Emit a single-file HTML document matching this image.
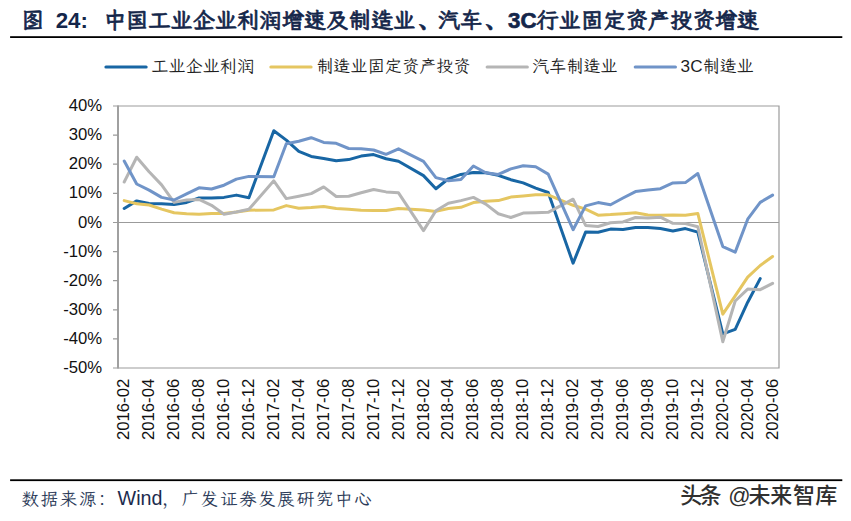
<!DOCTYPE html>
<html lang="zh-CN"><head><meta charset="utf-8"><title>图 24</title>
<style>
html,body{margin:0;padding:0;background:#fff;}
svg{display:block;}
.kai{font-family:"Liberation Sans","LXGW WenKai TC","Noto Serif CJK SC",serif;}
.pu{font-family:"Liberation Sans","Noto Serif CJK SC",serif;}
.sans{font-family:"Liberation Sans","Noto Sans CJK SC",sans-serif;}
.title{font-size:22.27px;font-weight:bold;fill:#14264a;}
.tk{stroke:#14264a;stroke-width:0.65px;}
.lg{font-size:17.15px;fill:#1f1f1f;}
.ax{font-size:16.7px;fill:#111;}
.src{font-size:17.6px;letter-spacing:1.6px;fill:#2b3a58;}
.srcl{font-size:19.7px;fill:#1c2b4d;}
.wm{font-size:22px;font-weight:500;fill:#303030;}
.series polyline{fill:none;stroke-width:3;stroke-linejoin:round;stroke-linecap:round;}
</style></head><body>
<svg width="851" height="521" viewBox="0 0 851 521">
<rect x="0" y="0" width="851" height="521" fill="#fff"/>
<rect x="10.1" y="36.2" width="832.2" height="1.8" fill="#000"/>
<rect x="10.1" y="479.3" width="832.2" height="1.8" fill="#000"/>
<text class="title kai tk" x="21.6" y="28.2">图</text>
<text class="title sans" x="55.7" y="28.2">24:</text>
<text class="title kai tk" x="103.7" y="28.2">中国工业企业利润增速及制造业<tspan class="pu" dx="3">、</tspan><tspan dx="-3">汽</tspan>车<tspan class="pu" dx="3">、</tspan><tspan dx="0.5">3</tspan>C行业固定资产投资增速</text>
<line x1="105.9" y1="67.0" x2="146.2" y2="67.0" stroke="#1866a4" stroke-width="3" stroke-linecap="round"/>
<text class="lg kai" x="151.3" y="72.45">工业企业利润</text>
<line x1="270.8" y1="67.0" x2="311.1" y2="67.0" stroke="#e5c661" stroke-width="3" stroke-linecap="round"/>
<text class="lg kai" x="316.2" y="72.45">制造业固定资产投资</text>
<line x1="487.1" y1="67.0" x2="527.4" y2="67.0" stroke="#b5b5b5" stroke-width="3" stroke-linecap="round"/>
<text class="lg kai" x="532.0" y="72.45">汽车制造业</text>
<line x1="635.2" y1="67.0" x2="675.5" y2="67.0" stroke="#7094c8" stroke-width="3" stroke-linecap="round"/>
<text class="lg kai" x="680.6" y="72.45">3C制造业</text>
<path d="M113.0 106.0H779.0V368.0H113.0" fill="none" stroke="#9b9b9b" stroke-width="1.2" stroke-linejoin="miter"/>
<line x1="118.0" y1="105.4" x2="118.0" y2="368.6" stroke="#a0a0a0" stroke-width="2"/>
<path d="M113.0 135.11H118.0M113.0 164.22H118.0M113.0 193.33H118.0M113.0 251.55H118.0M113.0 280.67H118.0M113.0 309.78H118.0M113.0 338.89H118.0" fill="none" stroke="#9b9b9b" stroke-width="1.2"/>
<line x1="113.0" y1="222.5" x2="779.0" y2="222.5" stroke="#9b9b9b" stroke-width="1"/>
<g class="ax sans" text-anchor="end">
<text x="102.2" y="111.1">40%</text>
<text x="102.2" y="140.2">30%</text>
<text x="102.2" y="169.3">20%</text>
<text x="102.2" y="198.4">10%</text>
<text x="102.2" y="227.5">0%</text>
<text x="102.2" y="256.7">-10%</text>
<text x="102.2" y="285.8">-20%</text>
<text x="102.2" y="314.9">-30%</text>
<text x="102.2" y="344.0">-40%</text>
<text x="102.2" y="373.1">-50%</text>
</g>
<g class="series">
<polyline points="124.2,208.5 136.7,200.9 149.1,203.5 161.6,203.8 174.1,204.4 186.6,202.4 199.0,198.0 211.5,198.0 224.0,197.4 236.4,195.1 248.9,197.7 273.8,130.7 286.3,140.1 298.8,151.4 311.2,156.4 323.7,158.4 336.2,160.7 348.7,159.6 361.1,156.1 373.6,154.6 386.1,158.7 398.5,161.3 423.5,175.6 435.9,188.7 448.4,178.8 460.9,174.4 473.4,172.4 485.8,172.7 498.3,175.3 510.8,179.7 523.2,182.9 535.7,188.1 548.2,192.5 573.1,263.2 585.6,232.1 598.1,232.3 610.5,229.1 623.0,229.4 635.5,227.4 647.9,227.4 660.4,228.6 672.9,230.9 685.4,228.6 697.8,232.1 722.8,333.9 735.2,329.3 747.7,302.2 760.2,278.6" stroke="#1866a4"/>
<polyline points="124.2,200.6 136.7,203.8 149.1,205.0 161.6,209.1 174.1,212.8 186.6,213.7 199.0,214.3 211.5,213.4 224.0,213.4 236.4,212.0 248.9,210.2 273.8,209.9 286.3,205.6 298.8,208.2 311.2,207.6 323.7,206.4 336.2,208.5 348.7,209.3 361.1,210.2 373.6,210.5 386.1,210.5 398.5,208.5 423.5,209.9 435.9,211.4 448.4,208.5 460.9,207.3 473.4,202.6 485.8,201.2 498.3,200.6 510.8,197.1 523.2,196.0 535.7,194.8 548.2,194.8 573.1,205.3 585.6,209.1 598.1,215.2 610.5,214.6 623.0,213.7 635.5,212.8 647.9,214.9 660.4,215.2 672.9,214.9 685.4,215.2 697.8,213.4 722.8,314.1 735.2,295.8 747.7,277.2 760.2,265.5 772.6,256.5" stroke="#e5c661"/>
<polyline points="124.2,182.0 136.7,157.2 149.1,171.8 161.6,184.9 174.1,202.4 186.6,200.0 199.0,199.4 211.5,205.3 224.0,214.3 236.4,212.0 248.9,209.3 273.8,180.8 286.3,198.6 298.8,196.2 311.2,193.6 323.7,186.9 336.2,196.5 348.7,196.2 361.1,192.8 373.6,189.5 386.1,191.9 398.5,192.8 423.5,230.6 435.9,210.8 448.4,203.2 460.9,200.6 473.4,197.4 485.8,204.1 498.3,213.7 510.8,217.5 523.2,213.1 535.7,212.8 548.2,212.3 573.1,199.2 585.6,225.4 598.1,226.5 610.5,222.7 623.0,221.9 635.5,217.5 647.9,218.1 660.4,217.2 672.9,223.3 685.4,223.6 697.8,226.8 722.8,341.8 735.2,301.0 747.7,289.1 760.2,289.7 772.6,283.3" stroke="#b5b5b5"/>
<polyline points="124.2,161.0 136.7,184.0 149.1,190.1 161.6,197.4 174.1,200.0 186.6,193.9 199.0,187.8 211.5,189.0 224.0,185.2 236.4,179.1 248.9,176.4 273.8,176.7 286.3,143.8 298.8,141.2 311.2,137.7 323.7,142.4 336.2,143.3 348.7,148.5 361.1,148.8 373.6,150.0 386.1,154.3 398.5,148.8 423.5,161.3 435.9,177.6 448.4,180.8 460.9,179.4 473.4,166.0 485.8,172.7 498.3,174.4 510.8,168.9 523.2,165.7 535.7,166.8 548.2,174.1 573.1,229.7 585.6,205.9 598.1,202.6 610.5,204.7 623.0,198.0 635.5,191.6 647.9,190.1 660.4,188.7 672.9,182.9 685.4,182.6 697.8,173.5 722.8,246.6 735.2,252.1 747.7,219.2 760.2,202.4 772.6,195.1" stroke="#7094c8"/>
</g>
<g class="ax sans" text-anchor="end">
<text transform="translate(129.2 378.8) rotate(-90)">2016-02</text>
<text transform="translate(154.1 378.8) rotate(-90)">2016-04</text>
<text transform="translate(179.1 378.8) rotate(-90)">2016-06</text>
<text transform="translate(204.0 378.8) rotate(-90)">2016-08</text>
<text transform="translate(229.0 378.8) rotate(-90)">2016-10</text>
<text transform="translate(253.9 378.8) rotate(-90)">2016-12</text>
<text transform="translate(278.8 378.8) rotate(-90)">2017-02</text>
<text transform="translate(303.8 378.8) rotate(-90)">2017-04</text>
<text transform="translate(328.7 378.8) rotate(-90)">2017-06</text>
<text transform="translate(353.7 378.8) rotate(-90)">2017-08</text>
<text transform="translate(378.6 378.8) rotate(-90)">2017-10</text>
<text transform="translate(403.5 378.8) rotate(-90)">2017-12</text>
<text transform="translate(428.5 378.8) rotate(-90)">2018-02</text>
<text transform="translate(453.4 378.8) rotate(-90)">2018-04</text>
<text transform="translate(478.4 378.8) rotate(-90)">2018-06</text>
<text transform="translate(503.3 378.8) rotate(-90)">2018-08</text>
<text transform="translate(528.2 378.8) rotate(-90)">2018-10</text>
<text transform="translate(553.2 378.8) rotate(-90)">2018-12</text>
<text transform="translate(578.1 378.8) rotate(-90)">2019-02</text>
<text transform="translate(603.1 378.8) rotate(-90)">2019-04</text>
<text transform="translate(628.0 378.8) rotate(-90)">2019-06</text>
<text transform="translate(652.9 378.8) rotate(-90)">2019-08</text>
<text transform="translate(677.9 378.8) rotate(-90)">2019-10</text>
<text transform="translate(702.8 378.8) rotate(-90)">2019-12</text>
<text transform="translate(727.8 378.8) rotate(-90)">2020-02</text>
<text transform="translate(752.7 378.8) rotate(-90)">2020-04</text>
<text transform="translate(777.6 378.8) rotate(-90)">2020-06</text>
</g>
<text class="src kai" x="21.3" y="505.2">数据来源<tspan class="pu">：</tspan></text>
<text class="srcl sans" x="117.6" y="505.2">Wind</text>
<text class="src kai" x="162.2" y="505.2"><tspan class="pu">，</tspan>广发证券发展研究中心</text>
<text class="wm sans" x="680.3 699.4 720 728.3 748.5 770.2 793.0 815.3" y="502.5">头条 @未来智库</text>
</svg></body></html>
